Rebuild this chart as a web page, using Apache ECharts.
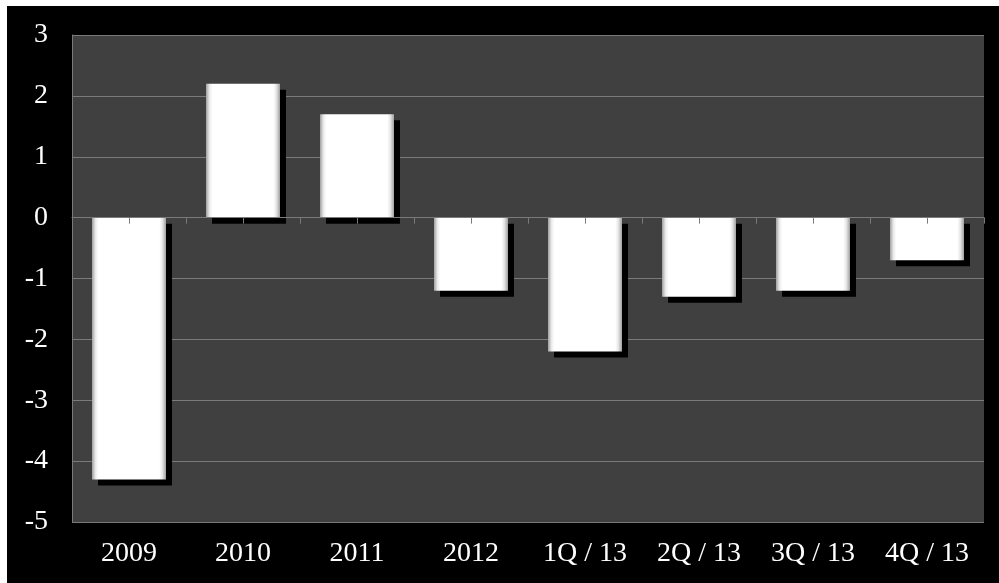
<!DOCTYPE html>
<html>
<head>
<meta charset="utf-8">
<script src="https://cdn.jsdelivr.net/npm/echarts@6/dist/echarts.min.js"></script>
<style>
  html, body { margin: 0; padding: 0; background: #ffffff; }
  #chart { position: absolute; left: 7px; top: 6px; width: 992px; height: 577px; }
</style>
</head>
<body>
<div id="chart"></div>
<script>
// Annual / quarterly change
const categories = ['2009', '2010', '2011', '2012', '1Q / 13', '2Q / 13', '3Q / 13', '4Q / 13'];
const values = [-4.3, 2.2, 1.7, -1.2, -2.2, -1.3, -1.2, -0.7];
// half-category slots used only for the tick marks on the zero line
const tickSlots = new Array(categories.length * 2).fill('');

const FONT = '"Liberation Serif", "DejaVu Serif", serif';
const GRID_GRAY = '#7a7a7a';

const chart = echarts.init(document.getElementById('chart'));
chart.setOption({
  backgroundColor: '#000000',
  animation: false,
  grid: {
    left: 65, top: 29, right: 15, bottom: 61,
    show: true, backgroundColor: '#404040', borderWidth: 0
  },
  xAxis: [
    {
      type: 'category',
      data: categories,
      position: 'bottom',
      axisLine: { show: false, onZero: false },
      axisTick: { show: false },
      axisLabel: { color: '#ffffff', fontFamily: FONT, fontSize: 28, margin: 18 }
    },
    {
      type: 'category',
      data: tickSlots,
      position: 'bottom',
      z: 5,
      axisLine: { show: true, onZero: true, lineStyle: { color: GRID_GRAY, width: 1 } },
      axisTick: { show: true, interval: 0, length: 6, lineStyle: { color: GRID_GRAY } },
      axisLabel: { show: false },
      splitLine: { show: false }
    }
  ],
  yAxis: {
    type: 'value',
    min: -5, max: 3, interval: 1,
    axisLine: { show: true, lineStyle: { color: GRID_GRAY, width: 1 } },
    axisTick: { show: false },
    axisLabel: { color: '#ffffff', fontFamily: FONT, fontSize: 28, margin: 24 },
    splitLine: { show: true, lineStyle: { color: GRID_GRAY, width: 1 } }
  },
  series: [{
    type: 'bar',
    xAxisIndex: 0,
    data: values,
    barWidth: 74,
    itemStyle: {
      color: new echarts.graphic.LinearGradient(0, 0, 1, 0, [
        { offset: 0, color: '#a0a0a0' },
        { offset: 0.05, color: '#eeeeee' },
        { offset: 0.09, color: '#ffffff' },
        { offset: 0.91, color: '#ffffff' },
        { offset: 0.95, color: '#e6e6e6' },
        { offset: 1, color: '#a0a0a0' }
      ]),
      borderWidth: 0,
      shadowColor: '#000000',
      shadowBlur: 0,
      shadowOffsetX: 6,
      shadowOffsetY: 6
    }
  }]
});
</script>
</body>
</html>
